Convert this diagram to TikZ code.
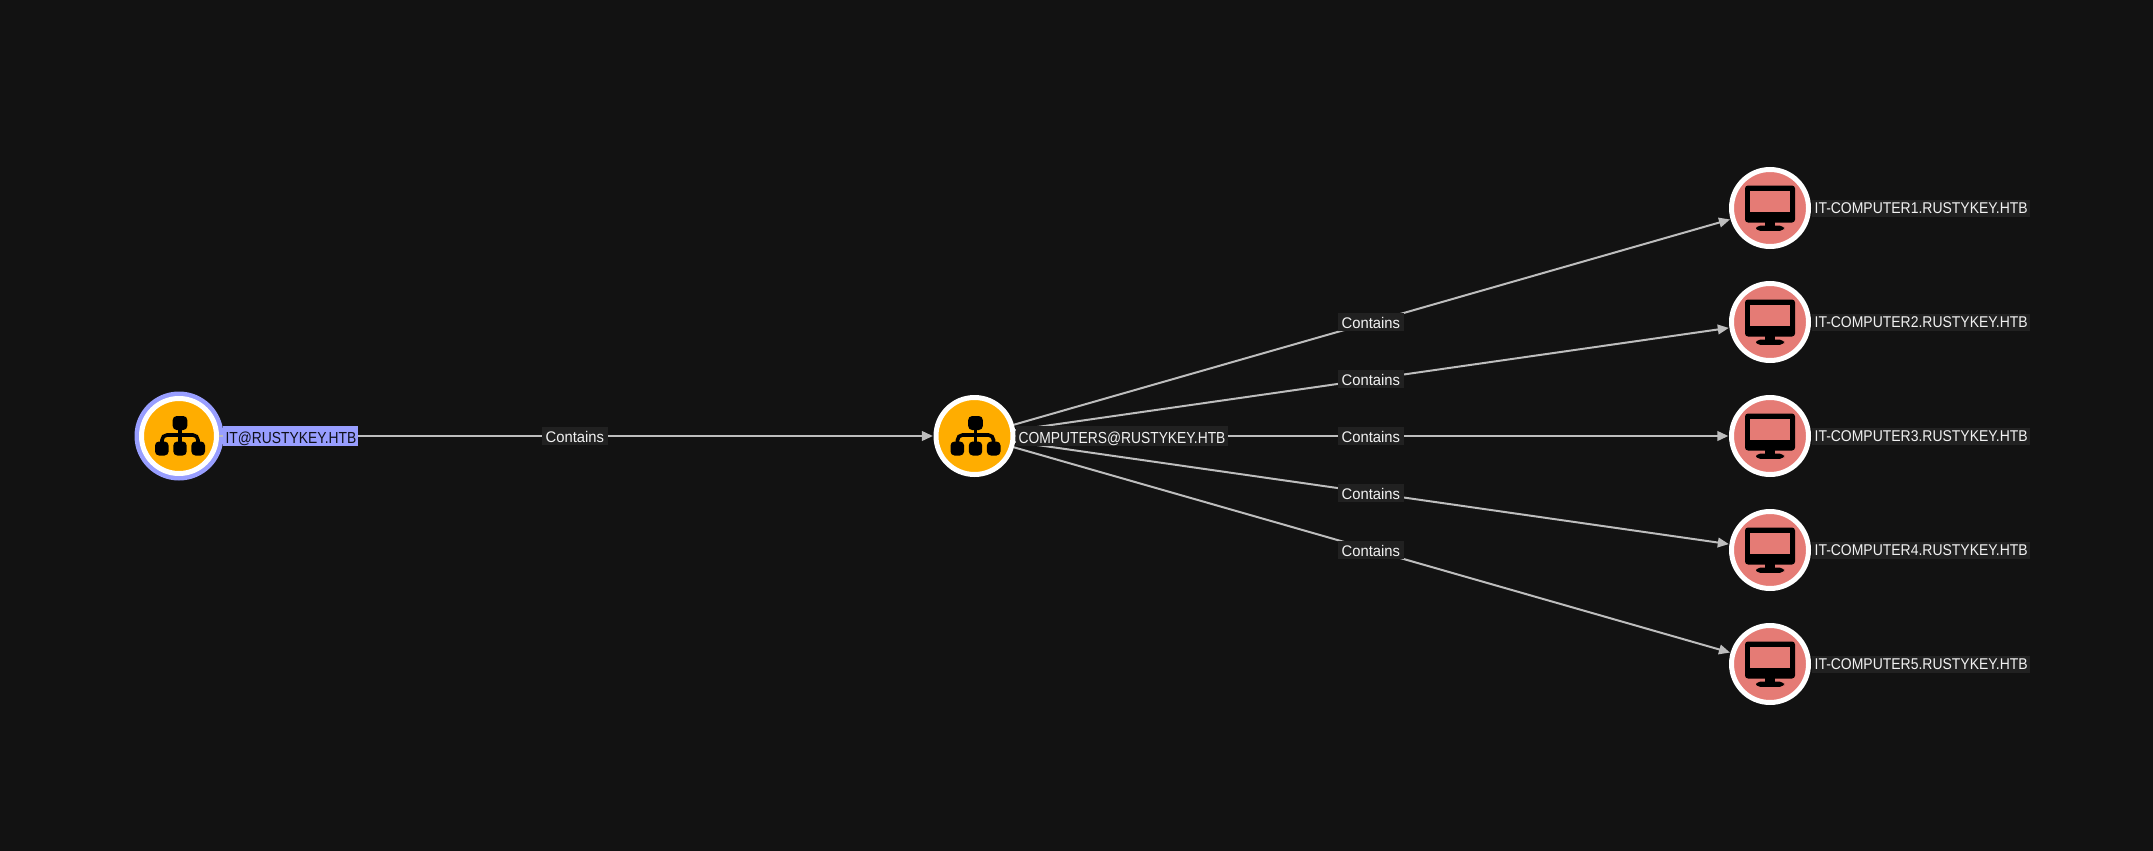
\documentclass[tikz,border=0pt]{standalone}
\usepackage{fontspec}
\setmainfont{Liberation Sans}
\newfontfamily\domfont[FakeStretch=0.865]{Liberation Sans}
\newfontfamily\compfont[FakeStretch=0.895]{Liberation Sans}
\newfontfamily\edgefont[FakeStretch=0.96]{Liberation Sans}
\usetikzlibrary{arrows.meta}
\definecolor{bgc}{HTML}{121212}
\definecolor{orangec}{HTML}{FFAD00}
\definecolor{salmonc}{HTML}{E57B75}
\definecolor{lav}{HTML}{989EFF}
\definecolor{edgec}{HTML}{BDBDBD}
\definecolor{labc}{HTML}{212121}
\definecolor{txtc}{HTML}{F2F2F2}
\tikzset{
 x=0.5pt,y=-0.5pt,
 ringnode/.style={circle,draw=white,line width=2.5pt,inner sep=0pt,outer sep=1.25pt,minimum size=38.5pt},
 domainnode/.style={ringnode,fill=orangec},
 computernode/.style={ringnode,fill=salmonc},
 edgeline/.style={draw=edgec,line width=1pt,-{Triangle[length=5.5pt,width=4.8pt]},shorten >=0.3pt},
 elabel/.style={fill=labc,text=txtc,font=\edgefont\fontsize{7.7}{10}\selectfont,inner sep=0pt,minimum width=33pt,text height=7.4pt,text depth=1.2pt,xshift=-0.7pt},
 nlabel/.style={fill=labc,text=txtc,anchor=west,inner xsep=1.1pt,inner ysep=0pt,font=\domfont\fontsize{8}{10}\selectfont,text height=8.5pt,text depth=1.5pt},
 clabel/.style={fill=labc,text=txtc,anchor=west,inner xsep=1.1pt,inner ysep=0pt,font=\compfont\fontsize{7.8}{10}\selectfont,text height=6.8pt,text depth=1.9pt},
 sitemap/.pic={
  \fill[black,rounded corners=2pt] (-7.3,-20) rectangle (7.3,-6);
  \fill[black,rounded corners=2pt] (-6.7,5.5) rectangle (6.7,19.5);
  \fill[black,rounded corners=2pt] (-25,5.5) rectangle (-11.4,19.5);
  \fill[black,rounded corners=2pt] (11.4,5.5) rectangle (25,19.5);
  \draw[black,line width=1.8pt] (0,-6) -- (0,6);
  \draw[black,line width=1.8pt,rounded corners=2.5pt] (-18,6) -- (-18,-1) -- (18,-1) -- (18,6);
 },
 monitor/.pic={
  \fill[black,rounded corners=1.5pt] (-25,-22.5) rectangle (25,14.5);
  \fill[salmonc] (-19.7,-16.7) rectangle (19.7,4);
  \fill[black] (-5,14) rectangle (5,18.5);
  \fill[black,rounded corners=2pt] (-14,17.7) rectangle (14,22.8);
 },
}
\begin{document}
\begin{tikzpicture}
\useasboundingbox[fill=bgc] (0,0) rectangle (2153,851);
% node circles
\fill[lav] (179,436) circle[radius=44.5];
\node[domainnode,minimum size=37.5pt] (it) at (179,436) {};
\node[domainnode] (comp) at (974.5,436) {};
\node[computernode] (c1) at (1770,208) {};
\node[computernode] (c2) at (1770,322) {};
\node[computernode] (c3) at (1770,436) {};
\node[computernode] (c4) at (1770,550) {};
\node[computernode] (c5) at (1770,664) {};
\path (it) ++(1,0) pic {sitemap};
\path (comp) ++(1,0) pic {sitemap};
\foreach \n in {c1,c2,c3,c4,c5} {\path (\n) pic {monitor};}
% edges with their labels
\draw[edgeline] (it) -- node[elabel,pos=0.5] (e0) {Contains} (comp);
\draw[edgeline] (comp) -- node[elabel,pos=0.5] (e1) {Contains} (c1);
\draw[edgeline] (comp) -- node[elabel,pos=0.5] (e2) {Contains} (c2);
\draw[edgeline] (comp) -- node[elabel,pos=0.5] (e3) {Contains} (c3);
\draw[edgeline] (comp) -- node[elabel,pos=0.5] (e4) {Contains} (c4);
\draw[edgeline] (comp) -- node[elabel,pos=0.5] (e5) {Contains} (c5);
% node labels
\node[nlabel,fill=lav,text=black!90!lav] (lit) at (223,436) {IT@RUSTYKEY.HTB};
\node[nlabel] (lcomp) at (1016,436) {COMPUTERS@RUSTYKEY.HTB};
\node[clabel] (l1) at (1812,208.5) {IT-COMPUTER1.RUSTYKEY.HTB};
\node[clabel] (l2) at (1812,322.5) {IT-COMPUTER2.RUSTYKEY.HTB};
\node[clabel] (l3) at (1812,436.5) {IT-COMPUTER3.RUSTYKEY.HTB};
\node[clabel] (l4) at (1812,550.5) {IT-COMPUTER4.RUSTYKEY.HTB};
\node[clabel] (l5) at (1812,664.5) {IT-COMPUTER5.RUSTYKEY.HTB};
\end{tikzpicture}
\end{document}
